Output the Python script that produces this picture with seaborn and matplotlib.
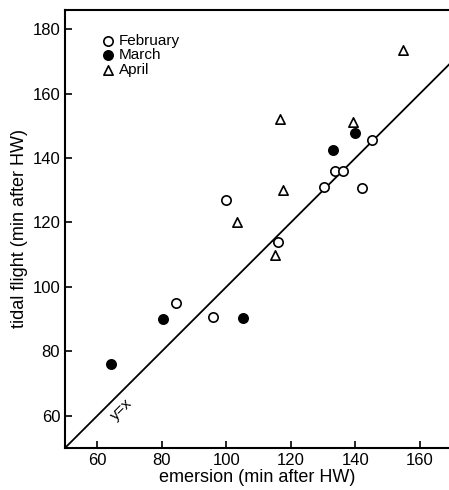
import pandas as pd
import matplotlib
matplotlib.use("Agg")
import matplotlib.pyplot as plt
import seaborn as sns

# data (emersion, tidal flight), min after HW
feb_x = [84.4, 95.9, 100.0, 116.0, 130.1, 133.6, 136.1, 142.0, 145.0]
feb_y = [94.9, 90.7, 126.9, 114.0, 131.0, 136.0, 136.0, 130.8, 145.7]
mar_x = [64.2, 80.3, 105.0, 132.9, 139.9]
mar_y = [76.0, 90.0, 90.2, 142.6, 147.6]
apr_x = [103.3, 115.2, 116.5, 117.5, 139.3, 154.8]
apr_y = [120.2, 109.8, 152.2, 130.2, 151.2, 173.6]
ref_line = [50, 170]

x_ticks = [60, 80, 100, 120, 140, 160]
y_ticks = [60, 80, 100, 120, 140, 160, 180]

df = pd.concat([
    pd.DataFrame({"emersion": feb_x, "flight": feb_y, "month": "February"}),
    pd.DataFrame({"emersion": mar_x, "flight": mar_y, "month": "March"}),
    pd.DataFrame({"emersion": apr_x, "flight": apr_y, "month": "April"}),
], ignore_index=True)

sns.set_style("ticks")
plt.rcParams["font.family"] = ["Liberation Sans", "DejaVu Sans"]
plt.rcParams["text.color"] = "black"
plt.rcParams["axes.labelcolor"] = "black"

fig = plt.figure(figsize=(4.49, 4.90), dpi=100)
ax = fig.add_axes([0.145, 0.086, 0.855, 0.894])

# y = x reference line
sns.lineplot(x=ref_line, y=ref_line, color="black", linewidth=1.3, ax=ax)

styles = {
    "February": dict(marker="o", facecolor="white"),
    "March": dict(marker="o", facecolor="black"),
    "April": dict(marker="^", facecolor="white"),
}
for month, st in styles.items():
    sub = df[df["month"] == month]
    sns.scatterplot(data=sub, x="emersion", y="flight", marker=st["marker"],
                    facecolor=st["facecolor"], edgecolor="black", linewidth=1.2,
                    s=45, label=month, ax=ax, zorder=3)

ax.legend(loc="upper left", bbox_to_anchor=(0.06, 0.97), frameon=False,
          handletextpad=0.1, labelspacing=0.05, fontsize=11,
          handlelength=1.2, borderpad=0.2, labelcolor="black")

ax.text(67.5, 62, "y=x", rotation=45, fontsize=11, color="black",
        ha="center", va="center")

ax.set_xlim(50, 169)
ax.set_ylim(50, 186)
ax.set_xticks(x_ticks)
ax.set_yticks(y_ticks)
ax.tick_params(direction="in", length=5, width=1.2, labelsize=12, colors="black")
ax.set_xlabel("emersion (min after HW)", fontsize=13, labelpad=1)
ax.set_ylabel("tidal flight (min after HW)", fontsize=13, labelpad=3)

for side in ["left", "bottom", "top"]:
    ax.spines[side].set_linewidth(1.5)
    ax.spines[side].set_color("black")
ax.spines["right"].set_visible(False)

fig.savefig("out.png", dpi=100)
